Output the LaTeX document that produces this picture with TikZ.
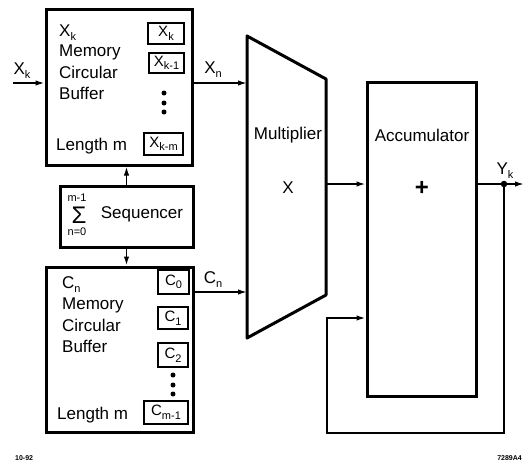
\documentclass[tikz,border=0pt]{standalone}
\usepackage{fontspec}
\setmainfont{Liberation Sans}
\usetikzlibrary{arrows.meta}
\newcommand\subx[1]{\raisebox{-0.45ex}{\fontsize{11}{11}\selectfont #1}}
\tikzset{
  cell/.style={draw, line width=2pt, inner sep=0pt, font=\fontsize{15}{15}\selectfont},
  lbl/.style={font=\fontsize{17}{20}\selectfont, inner sep=0pt},
  wire/.style={line width=1.6pt},
  arr/.style={wire, -{Latex[length=9pt,width=5.5pt]}},
  dotc/.style={circle, fill, inner sep=0pt, minimum size=5pt},
  heavy/.style={draw, line width=3pt},
  foot/.style={font=\fontsize{7}{7}\selectfont\bfseries, inner sep=0pt},
}
\begin{document}
\begin{tikzpicture}[x=1pt,y=-1pt]
\useasboundingbox (0,0) rectangle (524,464);

% top memory box
\node[heavy, minimum width=146pt, minimum height=156pt] (topbox) at (119,87) {};
\node[lbl, anchor=west] (tx) at (59,33) {X\subx{k}};
\node[lbl, anchor=west] (tm) at (59,52) {Memory};
\node[lbl, anchor=west] (tc) at (59,72) {Circular};
\node[lbl, anchor=west] (tb) at (59,93) {Buffer};
\node[lbl, anchor=west] (tl) at (56,146) {Length m};
\node[cell, minimum width=36pt, minimum height=21pt] (xk) at (166,33.5) {X\subx{k}};
\node[cell, minimum width=35pt, minimum height=20pt] (xk1) at (166.5,63) {X\subx{k-1}};
\node[dotc] (td1) at (164,93) {};
\node[dotc] (td2) at (164,103) {};
\node[dotc] (td3) at (164,112) {};
\node[cell, minimum width=39pt, minimum height=22pt] (xkm) at (163.5,144) {X\subx{k-m}};

% sequencer
\node[heavy, minimum width=133pt, minimum height=61pt] (seq) at (126.5,216.5) {};
\node[font=\fontsize{11}{11}\selectfont, inner sep=0pt] (sup) at (77,198) {m-1};
\node[font=\fontsize{24}{24}\selectfont, inner sep=0pt] (sig) at (79,215) {Σ};
\node[font=\fontsize{11}{11}\selectfont, inner sep=0pt] (sub) at (77,232) {n=0};
\node[lbl] (seqt) at (142,214) {Sequencer};

% bottom memory box
\node[heavy, minimum width=147pt, minimum height=165pt] (botbox) at (119.5,349.5) {};
\node[lbl, anchor=west] (bx) at (62,285) {C\subx{n}};
\node[lbl, anchor=west] (bm) at (62,305) {Memory};
\node[lbl, anchor=west] (bc) at (62,325) {Circular};
\node[lbl, anchor=west] (bb) at (62,346) {Buffer};
\node[lbl, anchor=west] (bl) at (57,415) {Length m};
\node[cell, minimum width=31pt, minimum height=24pt] (c0) at (173.5,282) {C\subx{0}};
\node[cell, minimum width=30pt, minimum height=22pt] (c1) at (173,318) {C\subx{1}};
\node[cell, minimum width=30pt, minimum height=24pt] (c2) at (173,355) {C\subx{2}};
\node[dotc] (bd1) at (173,375) {};
\node[dotc] (bd2) at (173,385) {};
\node[dotc] (bd3) at (173,394) {};
\node[cell, minimum width=44pt, minimum height=23pt] (cm1) at (166,412.5) {C\subx{m-1}};

% multiplier
\coordinate (mTL) at (247,36);
\coordinate (mTR) at (326,79);
\coordinate (mBR) at (326,295);
\coordinate (mBL) at (247,338);
\draw[line width=3pt, line join=round] (mTL) -- (mTR) -- (mBR) -- (mBL) -- cycle;
\node[lbl] (mult) at (288,135) {Multiplier};
\node[lbl] (mx) at (288,188) {X};

% accumulator
\node[heavy, minimum width=109pt, minimum height=314pt] (acc) at (421.5,239) {};
\node[lbl] (acct) at (422,135) {Accumulator};
\node[font=\fontsize{24}{24}\selectfont\bfseries, inner sep=0pt] (plus) at (422,188) {+};

% connectors
\coordinate (xin) at (13,83);
\draw[arr] (xin) -- (topbox.west |- xin);
\node[lbl] (xinl) at (22,71) {X\subx{k}};
\draw[arr] (topbox.east |- xin) -- (mTL |- xin);
\node[lbl] (xnl) at (213,70) {X\subx{n}};
\draw[arr] (seq.north) -- (topbox.south -| seq.north);
\draw[arr] (seq.south) -- (botbox.north -| seq.south);
\coordinate (cy) at (0,292);
\draw[arr] (botbox.east |- cy) -- (mTL |- cy);
\node[lbl] (cnl) at (213,280) {C\subx{n}};
\coordinate (my) at (0,184);
\draw[arr] (mTR |- my) -- (acc.west |- my);
\node[dotc, minimum size=6.5pt] (yd) at (504,184) {};
\coordinate (yout) at (524,184);
\draw[arr] (acc.east |- my) -- (yout);
\node[lbl] (ykl) at (505,171) {Y\subx{k}};
\coordinate (fb1) at (504,433);
\coordinate (fb2) at (327,433);
\coordinate (fb3) at (327,318);
\draw[arr] (yd.center) -- (fb1) -- (fb2) -- (fb3) -- (acc.west |- fb3);

% footer
\node[foot, anchor=west] (f1) at (15,458) {10-92};
\node[foot, anchor=east] (f2) at (522,458) {7289A4};
\end{tikzpicture}
\end{document}
